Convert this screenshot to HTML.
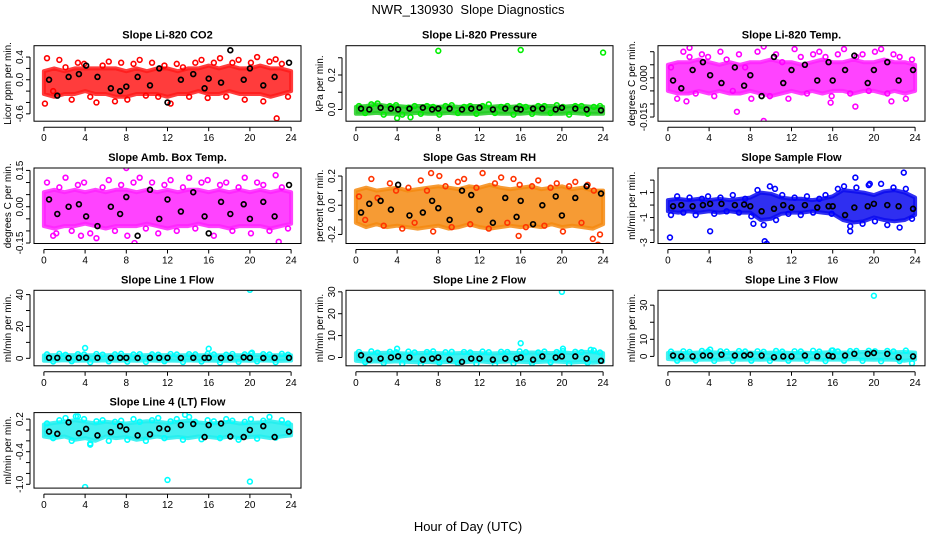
<!DOCTYPE html>
<html><head><meta charset="utf-8">
<style>
body{margin:0;background:#fff;}
svg{display:block;font-family:"Liberation Sans",Arial,sans-serif;}
</style></head>
<body>
<svg id="chart" width="936" height="540" viewBox="0 0 936 540" xmlns="http://www.w3.org/2000/svg">
<rect x="0" y="0" width="936" height="540" fill="#fff"/>
<text x="468" y="14" font-size="13" text-anchor="middle" style="white-space:pre">NWR_130930  Slope Diagnostics</text>
<text x="468" y="531" font-size="13" text-anchor="middle">Hour of Day (UTC)</text>
</svg>
<script>
const hoursBand=[0,1,2,3,4,5,6,7,8,9,10,11,12,13,14,15,16,17,18,19,20,21,22,23,24];
const hoursPts=[0.3,0.9,1.5,2.1,2.7,3.3,3.9,4.5,5.1,5.7,6.3,6.9,7.5,8.1,8.7,9.3,9.9,10.5,11.1,11.7,12.3,12.9,13.5,14.1,14.7,15.3,15.9,16.5,17.1,17.7,18.3,18.9,19.5,20.1,20.7,21.3,21.9,22.5,23.1,23.7];
const hoursBlack=[0.5,1.3,2.4,3.4,4.1,5.2,6.5,7.4,8.0,9.1,10.3,11.2,12.0,13.3,14.5,15.6,16.0,17.2,18.1,19.4,20.0,21.3,22.4,23.8];
const xTicks=[0,4,8,12,16,20,24];

const co2Lo=[-0.25,-0.3,-0.25,-0.25,-0.2,-0.25,-0.25,-0.3,-0.3,-0.25,-0.25,-0.25,-0.3,-0.25,-0.25,-0.2,-0.25,-0.25,-0.2,-0.25,-0.25,-0.25,-0.3,-0.25,-0.2];
const co2Hi=[0.15,0.2,0.15,0.2,0.2,0.2,0.2,0.2,0.15,0.2,0.15,0.2,0.2,0.15,0.2,0.2,0.25,0.2,0.25,0.2,0.2,0.25,0.2,0.2,0.15];
const co2Pts=[0.38,-0.2,0.35,0.22,-0.35,0.3,0.28,-0.3,-0.4,0.25,0.32,-0.38,0.3,-0.35,0.28,0.35,-0.28,0.3,-0.3,0.25,-0.42,0.28,0.22,-0.3,0.3,0.35,-0.32,0.3,0.38,-0.3,0.3,0.35,-0.35,0.3,0.4,-0.38,0.32,0.36,0.28,-0.3];
const co2OutX=[0.1,22.6];
const co2OutY=[-0.42,-0.68];
const co2Black=[0,-0.28,0.05,0.1,0.25,0.05,-0.15,-0.2,-0.12,0.05,-0.1,0.2,-0.4,0,0.1,-0.15,0.02,-0.05,0.52,0,0.2,-0.1,0.05,0.3];
const co2Ticks=[-0.6,-0.4,-0.2,0,0.2,0.4];
const co2Labels=["-0.6","","","0.0","","0.4"];

const presLo=[-0.025,-0.025,-0.02,-0.025,-0.025,-0.025,-0.02,-0.025,-0.025,-0.02,-0.025,-0.025,-0.025,-0.02,-0.025,-0.025,-0.025,-0.02,-0.025,-0.025,-0.025,-0.02,-0.025,-0.025,-0.025];
const presHi=[0.015,0.02,0.03,0.02,0.02,0.015,0.02,0.02,0.015,0.02,0.015,0.02,0.02,0.015,0.02,0.015,0.02,0.015,0.02,0.02,0.015,0.02,0.02,0.015,0.015];
const presPts=[0.02,-0.02,0.03,0.035,-0.03,0.02,0.025,-0.03,0.01,0.02,-0.025,0.02,0.015,-0.03,0.02,0.025,-0.02,0.015,0.02,-0.025,0.02,0.03,-0.02,0.015,0.02,-0.03,0.02,0.015,-0.025,0.02,0.02,-0.02,0.025,0.015,-0.03,0.02,0.02,-0.025,0.015,0.02];
const presOutX=[8,16,24,4,5.3];
const presOutY=[0.34,0.345,0.33,-0.05,-0.045];
const presBlack=[0.005,0,0.01,0.005,0,0.005,0.01,0,0.005,0.005,0,0.005,0.01,0,0.005,0.005,0,0.005,0.005,0,0.01,0.005,0,-0.005];
const presTicks=[0,0.1,0.2,0.3];
const presLabels=["0.0","","0.2",""];

const tempLo=[-0.005,-0.006,-0.006,-0.005,-0.006,-0.005,-0.006,-0.006,-0.005,-0.006,-0.007,-0.006,-0.005,-0.006,-0.005,-0.006,-0.005,-0.005,-0.006,-0.005,-0.005,-0.006,-0.005,-0.006,-0.005];
const tempHi=[0.005,0.006,0.006,0.007,0.006,0.005,0.006,0.005,0.006,0.006,0.007,0.006,0.006,0.005,0.006,0.007,0.006,0.006,0.007,0.006,0.006,0.007,0.006,0.006,0.005];
const tempPts=[0.004,-0.008,0.01,0.008,-0.006,0.009,0.008,-0.007,0.01,0.007,-0.005,0.009,0.004,-0.008,0.01,0.012,-0.007,0.009,0.006,-0.008,0.011,0.008,-0.006,0.009,0.01,0.008,-0.007,0.009,0.011,-0.006,0.008,0.009,-0.005,0.01,0.011,-0.006,0.009,0.008,-0.008,0.007];
const tempOutX=[1.8,9.3,6.7,18.2,2.1,15.8,21.7];
const tempOutY=[-0.009,-0.0165,-0.013,-0.011,0.0115,-0.0095,-0.009];
const tempBlack=[-0.001,-0.004,0.003,0.006,0.001,-0.002,0.004,-0.003,0.001,-0.007,0.008,-0.002,0.003,0.005,-0.001,0.006,-0.001,0.003,0.0085,-0.002,0.003,0.006,-0.001,0.003];
const tempTicks=[-0.015,-0.01,-0.005,0,0.005,0.01];
const tempLabels=["-0.015","","","0.000","",""];

const ambLo=[-0.08,-0.09,-0.08,-0.08,-0.07,-0.08,-0.09,-0.08,-0.08,-0.08,-0.07,-0.08,-0.09,-0.08,-0.08,-0.07,-0.08,-0.08,-0.09,-0.08,-0.08,-0.08,-0.09,-0.08,-0.07];
const ambHi=[0.06,0.07,0.06,0.07,0.06,0.07,0.06,0.07,0.07,0.06,0.07,0.06,0.07,0.06,0.07,0.07,0.06,0.07,0.06,0.07,0.06,0.07,0.06,0.07,0.06];
const ambPts=[0.1,-0.12,0.08,0.12,-0.1,0.09,0.1,-0.11,-0.13,0.08,0.11,-0.1,0.09,-0.12,0.1,0.12,-0.09,0.1,-0.11,0.09,0.11,-0.1,0.08,0.12,-0.09,0.1,0.11,-0.12,0.09,0.1,-0.1,0.08,0.12,-0.11,0.1,0.09,-0.1,0.13,0.08,-0.09];
const ambOutX=[8,8.8,22.8,1.2,3.6];
const ambOutY=[0.16,-0.15,-0.145,-0.11,-0.12];
const ambBlack=[0.03,-0.03,0.0,0.01,-0.04,-0.08,0.0,-0.03,0.04,-0.12,0.07,-0.05,0.03,-0.02,0.06,-0.04,-0.11,0.02,-0.03,0.01,-0.05,0.02,-0.04,0.09];
const ambTicks=[-0.15,-0.1,-0.05,0,0.05,0.1,0.15];
const ambLabels=["-0.15","","","0.00","","","0.15"];

const rhLo=[-0.12,-0.15,-0.13,-0.15,-0.14,-0.15,-0.16,-0.15,-0.14,-0.16,-0.15,-0.13,-0.15,-0.16,-0.15,-0.14,-0.15,-0.14,-0.15,-0.13,-0.15,-0.14,-0.15,-0.16,-0.13];
const rhHi=[0.1,0.12,0.1,0.11,0.12,0.1,0.11,0.12,0.13,0.12,0.11,0.13,0.12,0.14,0.12,0.11,0.12,0.13,0.11,0.12,0.13,0.11,0.12,0.1,0.1];
const rhPts=[0.06,-0.1,0.18,0.05,-0.14,0.15,0.1,-0.16,0.12,-0.12,0.17,0.1,-0.18,0.2,0.13,-0.15,0.16,0.18,-0.13,0.12,0.22,-0.16,0.15,0.19,-0.12,0.18,0.14,-0.15,0.13,0.17,-0.14,0.12,0.15,-0.18,0.13,0.16,-0.12,0.14,0.1,-0.2];
const rhOutX=[23,23.5,7.3,15.8];
const rhOutY=[-0.23,-0.27,0.22,-0.21];
const rhBlack=[-0.05,0.01,0.03,-0.03,0.14,-0.07,-0.05,0.03,-0.02,-0.1,0.1,0.07,-0.03,-0.12,0.05,-0.08,0.03,-0.13,0.0,0.06,-0.07,0.05,0.13,0.08];
const rhTicks=[-0.2,-0.1,0,0.1,0.2];
const rhLabels=["-0.2","","0.0","","0.2"];

const sfLo=[-0.5,-0.6,-0.5,-0.6,-0.5,-0.6,-0.5,-0.6,-0.6,-1.2,-1.1,-0.7,-0.6,-0.6,-0.5,-0.6,-0.7,-1.2,-1.4,-1.3,-1.0,-1.2,-1.3,-1.2,-0.8];
const sfHi=[0.4,0.5,0.4,0.5,0.4,0.5,0.4,0.5,0.6,1.0,0.9,0.6,0.5,0.5,0.4,0.5,0.7,1.2,1.1,1.0,0.8,1.1,1.2,1.0,0.6];
const sfPts=[-0.8,0.7,-0.6,0.6,-0.8,0.5,0.7,-0.7,0.6,-0.5,0.8,-0.6,0.5,-0.9,1.2,-1.6,1.5,-1.2,0.8,-0.7,0.6,-0.8,0.7,-0.6,0.5,0.8,-0.7,1.3,1.5,-1.7,1.4,-1.5,1.6,-1.3,1.7,-1.6,1.4,-1.8,1.3,-1.1];
const sfOutX=[0.2,9.4,9.6,4.1,8.3,17.7,19.6,22.9,18.2,10.4];
const sfOutY=[-2.6,-2.9,-3.1,-2.1,-1.5,-2.1,1.7,2.6,2.2,1.3];
const sfBlack=[-0.1,0,-0.1,0,0.1,0.1,0,0.05,-0.1,-0.5,-0.3,0,-0.2,0,-0.2,-0.1,-0.1,-0.8,-0.2,-0.1,0.1,0,-0.1,-0.3];
const sfTicks=[-3,-2,-1,0,1,2];
const sfLabels=["-3","","-1","","1",""];

const l1Lo=[-1.5,-1.5,-1.2,-1.5,-1.4,-1.5,-1.3,-1.5,-1.4,-1.5,-1.3,-1.5,-1.4,-1.5,-1.3,-1.5,-1.4,-1.6,-1.5,-1.4,-1.5,-1.3,-1.5,-1.6,-1.4];
const l1Hi=[1.8,2,1.9,2,1.8,2,1.9,2,2,1.8,2,1.9,2,1.8,2,1.9,2,1.8,2,1.9,2,2,1.8,2,1.9];
const l1Pts=[2.5,-2,2.8,2.2,-1.8,2.6,2.4,-2.5,2.7,2.3,-1.9,2.5,2.8,-2.1,2.4,2.6,-2.2,2.5,2.3,-1.8,2.7,2.4,-2.3,2.6,2.5,-2,2.8,2.4,-2.6,2.3,2.7,-2.2,2.5,2.9,-1.9,2.6,2.4,-2.4,2.8,2.3];
const l1OutX=[20,4,16,20.2];
const l1OutY=[43,6.5,6,3.5];
const l1Black=[0.3,0.3,0.2,0.3,0.4,0.3,0.2,0.3,0.3,0.2,0.3,0.3,0.3,0.2,0.3,0.3,0.3,0.2,0.3,0.6,0.3,0.2,0.3,0.3];
const l1Ticks=[0,10,20,30,40];
const l1Labels=["0","","20","","40"];

const l2Lo=[-1.5,-2,-1.8,-2,-1.8,-2,-2.2,-2,-2.3,-2,-2.4,-2,-1.8,-2.2,-2,-1.8,-2,-2.2,-2,-1.8,-2,-2.3,-2,-2.4,-2];
const l2Hi=[2,1.8,2,2.2,2,1.8,2,2.2,2,1.8,2,2.2,2,1.8,2,2.2,2,2.3,2.2,2,2.4,2,2.6,2.4,2];
const l2Pts=[2.5,-2.2,2.8,2.2,-2.5,2.6,2.4,-2.8,2.7,2.3,-2.9,2.5,2.8,-2.4,2.4,2.6,-2.6,2.5,2.3,-2.8,2.7,2.4,-3.2,2.6,2.5,-2.7,2.8,2.4,-2.6,2.3,2.7,-2.2,2.5,2.9,-2.9,2.6,2.4,-2.4,3.2,2.3];
const l2OutX=[20,16,4,20.1,22.8];
const l2OutY=[30,6.5,4,4,3.5];
const l2Black=[1,-1,-0.5,0,0.5,0,-1,-0.5,0,-1,-2,-0.5,-0.5,-1,-0.5,-0.5,0,-1,0.5,0,0.5,0.5,-0.5,-1.5];
const l2Ticks=[0,10,20,30];
const l2Labels=["0","10","20","30"];

const l3Lo=[-1.5,-2,-1.8,-2,-1.8,-2,-1.5,-2,-1.8,-2,-1.7,-2,-1.8,-2,-1.6,-2,-1.8,-2,-1.5,-1.8,-2,-1.8,-2,-2.5,-1.8];
const l3Hi=[2,2.2,2,2.3,2.5,2.2,2,2.3,2.2,2,2.2,2.3,2,2.2,2,2.3,2.4,2.2,2.4,2.6,2.7,2.5,2.4,2.6,2.2];
const l3Pts=[2.8,-2.5,3,2.6,-2.4,3.2,2.9,-2.6,3,2.8,-2.7,3.1,2.9,-2.5,3,2.7,-2.6,3.2,2.8,-2.5,3,2.9,-2.6,3.3,2.8,-2.7,3.4,2.9,-2.5,3.1,3.2,-2.6,3.3,3,-2.8,3.2,2.9,-2.7,3.4,-4];
const l3OutX=[20,4.1,16];
const l3OutY=[35.5,4,3.5];
const l3Black=[0.5,0,0,0.5,0.5,1,0.5,0.5,1,0.5,-0.5,0,0,0.5,0,0.5,0,0.5,1.5,1.5,2,1.5,-0.5,0];
const l3Ticks=[0,10,20,30];
const l3Labels=["0","10","","30"];

const l4Lo=[-0.12,-0.15,-0.12,-0.18,-0.15,-0.2,-0.12,-0.15,-0.13,-0.18,-0.15,-0.12,-0.15,-0.13,-0.15,-0.12,-0.13,-0.15,-0.12,-0.15,-0.13,-0.12,-0.15,-0.12,-0.1];
const l4Hi=[0.1,0.13,0.15,0.18,0.15,0.12,0.15,0.13,0.12,0.14,0.16,0.15,0.13,0.15,0.17,0.14,0.12,0.13,0.15,0.12,0.13,0.14,0.16,0.13,0.1];
const l4Pts=[0.12,-0.15,0.18,0.22,-0.2,0.25,0.2,-0.25,0.16,0.18,-0.2,0.15,0.17,-0.18,0.2,0.15,-0.2,0.18,0.22,-0.15,0.16,0.2,-0.18,0.24,0.15,-0.17,0.18,0.16,-0.15,0.2,0.17,-0.18,0.15,0.2,-0.16,0.17,0.24,-0.14,0.18,0.12];
const l4OutX=[4,12,20,13.7,3.1,4.5];
const l4OutY=[-1.05,-0.92,-0.95,0.28,0.25,-0.27];
const l4Black=[-0.03,-0.07,0.14,-0.06,0.02,-0.1,-0.04,0.07,0.01,-0.1,-0.08,0.03,0.02,0.09,0.11,-0.13,0.09,0.12,-0.12,-0.13,0.0,0.07,-0.13,-0.03];
const l4Ticks=[-1.0,-0.8,-0.6,-0.4,-0.2,0,0.2];
const l4Labels=["-1.0","","","-0.4","","","0.2"];

const panels=[
 {name:"co2",title:"Slope Li-820 CO2",ylab:"Licor ppm per min.",col:0,row:0,ymin:-0.73,ymax:0.6,color:"#ff0000",band:"#ff1a1a",lo:co2Lo,hi:co2Hi,pts:co2Pts,ox:co2OutX,oy:co2OutY,blk:co2Black,ticks:co2Ticks,labels:co2Labels},
 {name:"pressure",title:"Slope Li-820 Pressure",ylab:"kPa per min.",col:1,row:0,ymin:-0.068,ymax:0.37,color:"#00ee00",band:"#22cc22",lo:presLo,hi:presHi,pts:presPts,ox:presOutX,oy:presOutY,blk:presBlack,ticks:presTicks,labels:presLabels},
 {name:"temp",title:"Slope Li-820 Temp.",ylab:"degrees C per min.",col:2,row:0,ymin:-0.0166,ymax:0.0123,color:"#ff00ff",band:"#ff22ff",lo:tempLo,hi:tempHi,pts:tempPts,ox:tempOutX,oy:tempOutY,blk:tempBlack,ticks:tempTicks,labels:tempLabels},
 {name:"amb-temp",title:"Slope Amb. Box Temp.",ylab:"degrees C per min.",col:0,row:1,ymin:-0.152,ymax:0.16,color:"#ff00ff",band:"#ff22ff",lo:ambLo,hi:ambHi,pts:ambPts,ox:ambOutX,oy:ambOutY,blk:ambBlack,ticks:ambTicks,labels:ambLabels},
 {name:"rh",title:"Slope Gas Stream RH",ylab:"percent per min.",col:1,row:1,ymin:-0.262,ymax:0.255,color:"#ff3300",band:"#f58a10",lo:rhLo,hi:rhHi,pts:rhPts,ox:rhOutX,oy:rhOutY,blk:rhBlack,ticks:rhTicks,labels:rhLabels},
 {name:"sample-flow",title:"Slope Sample Flow",ylab:"ml/min per min.",col:2,row:1,ymin:-3.08,ymax:2.97,color:"#0000ff",band:"#0a0aee",lo:sfLo,hi:sfHi,pts:sfPts,ox:sfOutX,oy:sfOutY,blk:sfBlack,ticks:sfTicks,labels:sfLabels},
 {name:"line1",title:"Slope Line 1 Flow",ylab:"ml/min per min.",col:0,row:2,ymin:-4.7,ymax:42.7,color:"#00ffff",band:"#22eeee",lo:l1Lo,hi:l1Hi,pts:l1Pts,ox:l1OutX,oy:l1OutY,blk:l1Black,ticks:l1Ticks,labels:l1Labels},
 {name:"line2",title:"Slope Line 2 Flow",ylab:"ml/min per min.",col:1,row:2,ymin:-3.8,ymax:30.7,color:"#00ffff",band:"#22eeee",lo:l2Lo,hi:l2Hi,pts:l2Pts,ox:l2OutX,oy:l2OutY,blk:l2Black,ticks:l2Ticks,labels:l2Labels},
 {name:"line3",title:"Slope Line 3 Flow",ylab:"ml/min per min.",col:2,row:2,ymin:-5.5,ymax:38.7,color:"#00ffff",band:"#22eeee",lo:l3Lo,hi:l3Hi,pts:l3Pts,ox:l3OutX,oy:l3OutY,blk:l3Black,ticks:l3Ticks,labels:l3Labels},
 {name:"line4",title:"Slope Line 4 (LT) Flow",ylab:"ml/min per min.",col:0,row:3,ymin:-1.07,ymax:0.32,color:"#00ffff",band:"#22eeee",lo:l4Lo,hi:l4Hi,pts:l4Pts,ox:l4OutX,oy:l4OutY,blk:l4Black,ticks:l4Ticks,labels:l4Labels}
];

const NS="http://www.w3.org/2000/svg";
const svg=document.getElementById("chart");
function mk(tag,attrs,parent){const e=document.createElementNS(NS,tag);for(const k in attrs)e.setAttribute(k,attrs[k]);parent.appendChild(e);return e;}

panels.forEach(p=>{
  const L=34+p.col*312, R=L+267, T=45.7+p.row*122.3, B=T+75.5;
  const xs=h=>L+9.9+h*(R-L-19.8)/24;
  const ys=v=>B-(v-p.ymin)/(p.ymax-p.ymin)*(B-T);
  const g=mk("g",{},svg);
  
  
  const cp=mk("clipPath",{id:"clip-"+p.name},g);
  mk("rect",{x:L,y:T,width:R-L,height:B-T},cp);
  const plot=mk("g",{"clip-path":"url(#clip-"+p.name+")"},g);
  
  
  let d="";
  hoursBand.forEach((h,i)=>{d+=(i?"L":"M")+xs(h).toFixed(1)+","+ys(p.hi[i]).toFixed(1);});
  for(let i=hoursBand.length-1;i>=0;i--){d+="L"+xs(hoursBand[i]).toFixed(1)+","+ys(p.lo[i]).toFixed(1);}
  const band=mk("path",{d:d+"Z",fill:p.band,"fill-opacity":0.85,stroke:p.band,"stroke-opacity":0.85,"stroke-width":4,"stroke-linejoin":"round"},plot);
  
  
  hoursPts.forEach((h,i)=>{
    const c=mk("circle",{cx:xs(h),cy:ys(p.pts[i]),r:2.4,fill:"none",stroke:p.color,"stroke-width":1.6},plot);
    
    
  });
  p.ox.forEach((h,i)=>{
    const c=mk("circle",{cx:xs(h),cy:ys(p.oy[i]),r:2.4,fill:"none",stroke:p.color,"stroke-width":1.6},plot);
    
    
  });
  hoursBlack.forEach((h,i)=>{
    const c=mk("circle",{cx:xs(h),cy:ys(p.blk[i]),r:2.4,fill:"none",stroke:"#000","stroke-width":1.7},plot);
    
    
  });
  const box=mk("rect",{x:L,y:T,width:R-L,height:B-T,fill:"none",stroke:"#000","stroke-width":1},g);
  
  
  const t=mk("text",{x:(L+R)/2,y:T-7,"font-size":11,"font-weight":"bold","text-anchor":"middle"},g);
  t.textContent=p.title;
  
  
  const yl=mk("text",{x:0,y:0,"font-size":10,"text-anchor":"middle",transform:"translate("+(L-23)+","+((T+B)/2)+") rotate(-90)"},g);
  yl.textContent=p.ylab;
  
  
  mk("line",{x1:xs(0),x2:xs(24),y1:B+6,y2:B+6,stroke:"#000"},g);
  xTicks.forEach(h=>{
    mk("line",{x1:xs(h),x2:xs(h),y1:B+6,y2:B+10,stroke:"#000"},g);
    const tl=mk("text",{x:xs(h),y:B+20,"font-size":10,"text-anchor":"middle"},g);
    tl.textContent=String(h);
    
    
  });
  const yt0=ys(p.ticks[0]), yt1=ys(p.ticks[p.ticks.length-1]);
  mk("line",{x1:L-4,x2:L-4,y1:yt0,y2:yt1,stroke:"#000"},g);
  p.ticks.forEach((v,i)=>{
    mk("line",{x1:L-8,x2:L-4,y1:ys(v),y2:ys(v),stroke:"#000"},g);
    if(p.labels[i]){
      const tl=mk("text",{x:0,y:0,"font-size":10,"text-anchor":"middle",transform:"translate("+(L-11)+","+ys(v)+") rotate(-90)"},g);
      tl.textContent=p.labels[i];
      
      
    }
  });
});
</script>
</body></html>
